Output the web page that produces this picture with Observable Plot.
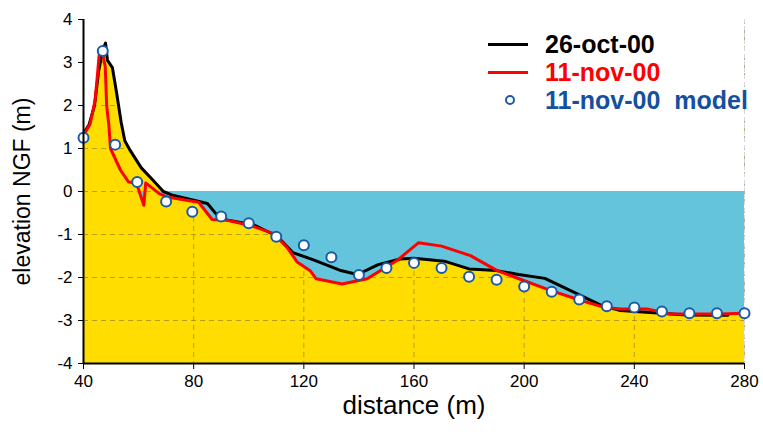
<!DOCTYPE html>
<html><head><meta charset="utf-8">
<script src="https://cdn.jsdelivr.net/npm/d3@7"></script>
<script src="https://cdn.jsdelivr.net/npm/@observablehq/plot@0.6"></script>
<style>
body{margin:0;background:#fff;}
#wrap{position:relative;width:763px;height:432px;font-family:Arial,"Liberation Sans",sans-serif;}
#legend{position:absolute;left:486px;top:30px;}
.row{position:relative;height:28px;white-space:pre;font-weight:bold;font-size:25px;line-height:28px;}
.row .txt{position:absolute;left:59px;top:0;}
.row .ln{position:absolute;left:2px;top:13px;width:40px;height:3px;}
.row .dt{position:absolute;left:19px;top:9px;width:6px;height:6px;border:2px solid #1a5aa8;border-radius:50%;background:#fff;}
</style></head><body><div id="wrap"><div id="legend"></div></div>
<script>
// 26-oct-00 profile
const octX = [40,42,44,45.5,47,48,48.7,50.5,52,53.7,55,57,61,65,69,72,85,88.5,92,102,109,112,116,124,133,139.5,147,155,160,171,180,190,198,207.5,218,228,235,247,259,274];
const octY = [1.35,1.55,2.0,2.8,3.3,3.45,3.05,2.88,2.3,1.6,1.18,0.95,0.55,0.28,0.0,-0.08,-0.28,-0.55,-0.66,-0.78,-1.0,-1.15,-1.42,-1.6,-1.83,-1.93,-1.7,-1.57,-1.55,-1.62,-1.8,-1.84,-1.93,-2.02,-2.34,-2.65,-2.77,-2.82,-2.87,-2.88];
// 11-nov-00 profile
const novX = [40,42.4,44.2,45.1,45.8,46.6,47.9,48.4,49.2,49.8,53.4,56.4,59.2,61.9,62.6,67.5,70.4,81.8,86.7,92.2,100.6,109.1,113.9,117.6,122.4,124.5,133.9,143,153.9,161.7,170,180.5,190.2,198.6,209.5,220.4,228.8,235,244.6,253,271,280];
const novY = [1.3,1.57,2.12,2.74,3.25,3.32,2.9,2.0,1.55,1.0,0.5,0.22,0.2,-0.32,0.2,-0.05,-0.13,-0.25,-0.65,-0.67,-0.79,-0.98,-1.3,-1.64,-1.85,-2.03,-2.15,-2.03,-1.6,-1.19,-1.27,-1.49,-1.84,-2.04,-2.3,-2.53,-2.69,-2.73,-2.73,-2.85,-2.85,-2.83];
// 11-nov-00 model
const modelX = [40,47,51.5,59.5,70,79.5,90,100,110,120,130,140,150,160,170,180,190,200,210,220,230,240,250,260,270,280];
const modelY = [1.25,3.27,1.09,0.22,-0.23,-0.47,-0.58,-0.74,-1.05,-1.25,-1.53,-1.94,-1.78,-1.66,-1.78,-1.98,-2.05,-2.21,-2.33,-2.51,-2.67,-2.70,-2.79,-2.83,-2.83,-2.83];

const xTicks = [40,80,120,160,200,240,280];
const yTicks = [-4,-3,-2,-1,0,1,2,3,4];
const seriesNames = ["26-oct-00","11-nov-00","11-nov-00  model"];
const axisTitles = ["distance (m)","elevation NGF (m)"];

const oct = octX.map((x,i)=>({x, y:octY[i]}));
const nov = novX.map((x,i)=>({x, y:novY[i]}));
const model = modelX.map((x,i)=>({x, y:modelY[i]}));

function at(xs, ys, x){
  if (x <= xs[0]) return ys[0];
  if (x >= xs[xs.length-1]) return ys[ys.length-1];
  for (let i=1;i<xs.length;i++){
    if (x <= xs[i]){ const t=(x-xs[i-1])/(xs[i]-xs[i-1]); return ys[i-1]+t*(ys[i]-ys[i-1]); }
  }
}
const gridXs = Array.from(new Set([...octX, ...novX])).sort((a,b)=>a-b);
const env = gridXs.map(x=>{const a=at(octX,octY,x), b=at(novX,novY,x); return {x, lo:Math.min(a,b), hi:Math.max(a,b)};});

const gridStyle = {stroke:"#7a6a30", strokeOpacity:0.55, strokeWidth:1, strokeDasharray:"5,4"};

const chart = Plot.plot({
  width:763, height:432,
  marginLeft:83, marginRight:19, marginTop:19, marginBottom:69,
  x:{domain:[40,280]},
  y:{domain:[-4,4]},
  style:{fontFamily:'Arial, "Liberation Sans", sans-serif', fontSize:"17px", color:"#000", background:"transparent"},
  marks:[
    Plot.areaY(env, {x:"x", y1:-4, y2:"hi", fill:"#ffdd00"}),
    Plot.gridX(xTicks, gridStyle),
    Plot.gridY(yTicks, gridStyle),
    Plot.areaY(env, {x:"x", y1:"hi", y2:4, fill:"#ffffff"}),
    Plot.areaY(env, {x:"x", y1:d=>Math.min(d.lo,0), y2:0, fill:"#64c4dc"}),
    Plot.ruleX([280], {stroke:"#d8d8d8", strokeDasharray:"4,3"}),
    Plot.line(oct, {x:"x", y:"y", stroke:"#000", strokeWidth:3, strokeLinejoin:"round"}),
    Plot.line(nov, {x:"x", y:"y", stroke:"#ff0000", strokeWidth:3, strokeLinejoin:"round"}),
    Plot.dot(model, {x:"x", y:"y", r:5, fill:"#fff", stroke:"#1a5aa8", strokeWidth:2}),
    Plot.axisX({ticks:xTicks, tickSize:6, tickPadding:5, label:null}),
    Plot.axisY({ticks:yTicks, tickSize:5, tickPadding:6, label:null, tickFormat:d=>String(d)}),
    Plot.ruleX([40], {stroke:"#000", strokeWidth:2}),
    Plot.ruleY([-4], {stroke:"#000", strokeWidth:2}),
    Plot.text([axisTitles[0]], {frameAnchor:"bottom", dy:50, fontSize:26, text:d=>d}),
    Plot.text([axisTitles[1]], {frameAnchor:"left", dx:-61, rotate:-90, textAnchor:"middle", fontSize:23, text:d=>d})
  ]
});
const wrap = document.getElementById("wrap");
wrap.insertBefore(chart, wrap.firstChild);

const legend = document.getElementById("legend");
const colors = ["#000","#ff0000","#1550a0"];
seriesNames.forEach((name,i)=>{
  const row = document.createElement("div"); row.className="row";
  const sym = document.createElement("div");
  if (i<2){ sym.className="ln"; sym.style.background=colors[i]; } else { sym.className="dt"; }
  const t = document.createElement("div"); t.className="txt"; t.textContent=name; t.style.color=colors[i];
  row.appendChild(sym); row.appendChild(t); legend.appendChild(row);
});
</script></body></html>
